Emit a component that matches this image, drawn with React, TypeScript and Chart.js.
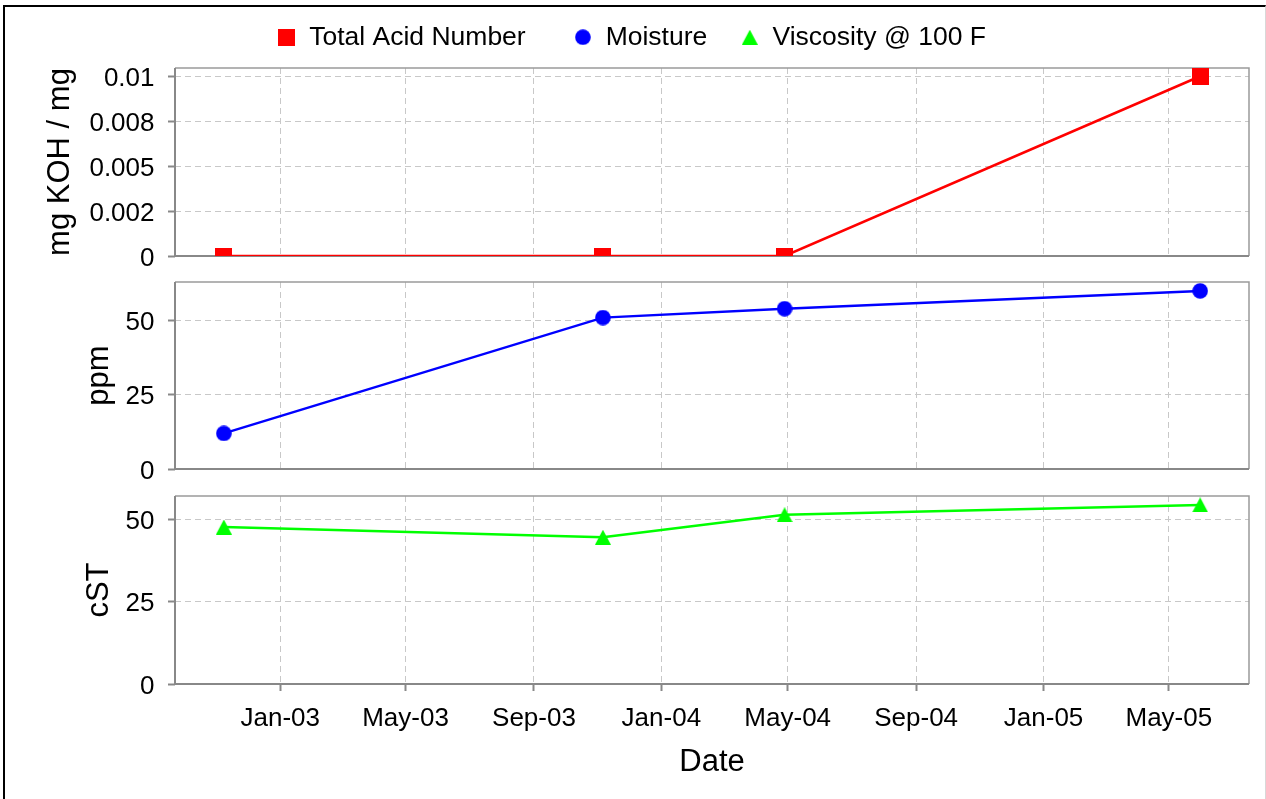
import React, { useEffect, useRef } from 'react';
import { Chart, registerables } from 'chart.js';

Chart.register(...registerables);

// ---- data ----
const dates = ['2002-11-08', '2003-11-06', '2004-04-28', '2005-05-31'];
const seriesNames = ['Total Acid Number', 'Moisture', 'Viscosity @ 100 F'];
const seriesColors = ['#ff0000', '#0000ff', '#00ff00'];
const tanValues = [0, 0, 0, 0.01];
const moistureValues = [12, 51, 54, 60];
const viscosityValues = [47.6, 44.5, 51.3, 54.3];

const tanTicks = [0, 0.0025, 0.005, 0.0075, 0.01];
const tanTickLabels = ['0', '0.002', '0.005', '0.008', '0.01'];
const moistureTicks = [0, 25, 50];
const moistureTickLabels = ['0', '25', '50'];
const viscosityTicks = [0, 25, 50];
const viscosityTickLabels = ['0', '25', '50'];

const xTickDates = ['2003-01-01', '2003-05-01', '2003-09-01', '2004-01-01', '2004-05-01', '2004-09-01', '2005-01-01', '2005-05-01'];
const xTickLabels = ['Jan-03', 'May-03', 'Sep-03', 'Jan-04', 'May-04', 'Sep-04', 'Jan-05', 'May-05'];

const yTitles = ['mg KOH / mg', 'ppm', 'cST'];
const xTitle = 'Date';

// ---- helpers ----
const toDay = (s: string) => {
  const [y, m, d] = s.split('-').map(Number);
  return Date.UTC(y, m - 1, d) / 86400000;
};

const GRID = '#c8c8c8';
const AXIS = '#888888';
const DASH = [6, 4];

function makeMarker(kind: string, color: string) {
  const c = document.createElement('canvas');
  const ctx = c.getContext('2d')!;
  if (kind === 'square') {
    c.width = 17; c.height = 17;
    ctx.fillStyle = color;
    ctx.fillRect(0, 0, 17, 17);
  } else if (kind === 'circle') {
    c.width = 16; c.height = 16;
    ctx.fillStyle = color;
    ctx.beginPath();
    ctx.arc(8, 8, 7.8, 0, Math.PI * 2);
    ctx.fill();
  } else {
    c.width = 16; c.height = 15;
    ctx.fillStyle = color;
    ctx.beginPath();
    ctx.moveTo(8, 0);
    ctx.lineTo(16, 15);
    ctx.lineTo(0, 15);
    ctx.closePath();
    ctx.fill();
  }
  return c;
}

const framePlugin = {
  id: 'frame',
  beforeDatasetsDraw(chart: any) {
    const { ctx, chartArea: a } = chart;
    ctx.save();
    ctx.setLineDash([]);
    ctx.strokeStyle = '#9a9a9a';
    ctx.lineWidth = 1.5;
    ctx.beginPath();
    ctx.moveTo(a.left, a.top);
    ctx.lineTo(a.right, a.top);
    ctx.lineTo(a.right, a.bottom);
    ctx.stroke();
    ctx.strokeStyle = AXIS;
    ctx.lineWidth = 2;
    ctx.beginPath();
    ctx.moveTo(a.left, a.top);
    ctx.lineTo(a.left, a.bottom);
    ctx.lineTo(a.right, a.bottom);
    ctx.stroke();
    ctx.restore();
  },
};

// fixes the legend box height so the plot starts where the reference does
const legendHeightPlugin = (h: number) => ({
  id: 'legendHeight',
  beforeInit(chart: any) {
    const legend = chart.legend;
    if (!legend) return;
    const fit = legend.fit;
    legend.fit = function () {
      fit.call(this);
      this.height = h;
    };
  },
});

export default function App() {
  const r1 = useRef<HTMLCanvasElement>(null);
  const r2 = useRef<HTMLCanvasElement>(null);
  const r3 = useRef<HTMLCanvasElement>(null);

  useEffect(() => {
    Chart.defaults.font.family = '"Liberation Sans", Arial, Helvetica, sans-serif';
    Chart.defaults.color = '#000';

    const markers = [
      makeMarker('square', seriesColors[0]),
      makeMarker('circle', seriesColors[1]),
      makeMarker('triangle', seriesColors[2]),
    ];

    const xDays = dates.map(toDay);
    const span = xDays[xDays.length - 1] - xDays[0];
    const xMin = xDays[0] - span * 0.05;
    const xMax = xDays[xDays.length - 1] + span * 0.05;
    const xTickValues = xTickDates.map(toDay);

    const xScale = (show: boolean) => ({
      type: 'linear',
      min: xMin,
      max: xMax,
      afterBuildTicks: (s: any) => { s.ticks = xTickValues.map((v) => ({ value: v })); },
      afterFit: (s: any) => { s.height = show ? 115 : 0; s.paddingLeft = 0; s.paddingRight = 0; },
      grid: { color: GRID, lineWidth: 1, borderDash: DASH, drawTicks: show, tickLength: 7, tickColor: AXIS, tickWidth: 2, tickBorderDash: [] },
      border: { display: false, dash: DASH },
      ticks: { display: show, autoSkip: false, maxRotation: 0, minRotation: 0, padding: 15, font: { size: 26, lineHeight: 1 }, callback: (_v: any, i: number) => xTickLabels[i] },
      title: { display: show, text: xTitle, font: { size: 31, lineHeight: 1 }, padding: { top: 0, bottom: 21.5 } },
    });

    const yScale = (max: number, ticks: number[], labels: string[], title: string, titlePad: number, width: number) => ({
      type: 'linear',
      min: 0,
      max,
      afterBuildTicks: (s: any) => { s.ticks = ticks.map((v) => ({ value: v })); },
      afterFit: (s: any) => { s.width = width; s.paddingTop = 0; s.paddingBottom = 0; },
      grid: { color: GRID, lineWidth: 1, borderDash: DASH, drawTicks: true, tickLength: 7, tickColor: AXIS, tickWidth: 2, tickBorderDash: [] },
      border: { display: false, dash: DASH },
      ticks: { autoSkip: false, padding: 13.5, labelOffset: 2.5, font: { size: 26 }, callback: (_v: any, i: number) => labels[i] },
      title: { display: true, text: title, font: { size: 31, lineHeight: 1 }, padding: { top: titlePad, bottom: 0 } },
    });

    const dataset = (i: number, values: number[]) => ({
      label: seriesNames[i],
      data: values.map((v, k) => ({ x: xDays[k], y: v })),
      borderColor: seriesColors[i],
      backgroundColor: seriesColors[i],
      borderWidth: 2.5,
      tension: 0,
      pointStyle: markers[i],
      pointRadius: 8,
      pointBorderWidth: 0,
      pointHoverRadius: 8,
    });

    const base = (padding: any, legend: any, x: any, y: any, ds: any, extra: any[] = []): any => ({
      type: 'line',
      data: { datasets: [ds] },
      options: {
        responsive: false,
        animation: false,
        events: [],
        layout: { padding },
        plugins: { legend, tooltip: { enabled: false } },
        scales: { x, y },
      },
      plugins: [framePlugin, ...extra],
    });

    // legend label spacing in the reference is wider after the first entry
    const legendTexts = [seriesNames[0] + '\u0020\u0020', seriesNames[1], seriesNames[2]];

    const c1 = new Chart(
      r1.current!,
      base(
        { left: 13.9, right: 17, top: 0, bottom: 543 },
        {
          display: true,
          position: 'top',
          align: 'center',
          labels: {
            usePointStyle: true,
            boxWidth: 19,
            padding: 33,
            color: '#000',
            font: { size: 26.5 },
            generateLabels: () =>
              legendTexts.map((t, i) => ({
                text: t,
                pointStyle: markers[i],
                fillStyle: seriesColors[i],
                strokeStyle: seriesColors[i],
                lineWidth: 0,
                hidden: false,
                datasetIndex: 0,
              })),
          },
        },
        xScale(false),
        yScale(0.01046, tanTicks, tanTickLabels, yTitles[0], 31.1, 161.1),
        dataset(0, tanValues),
        [legendHeightPlugin(77)]
      )
    );

    const c2 = new Chart(
      r2.current!,
      base(
        { left: 0, right: 17, top: 282, bottom: 330 },
        { display: false },
        xScale(false),
        yScale(63, moistureTicks, moistureTickLabels, yTitles[1], 84, 175),
        dataset(1, moistureValues)
      )
    );

    const c3 = new Chart(
      r3.current!,
      base(
        { left: 0, right: 17, top: 496, bottom: 0 },
        { display: false },
        xScale(true),
        yScale(57, viscosityTicks, viscosityTickLabels, yTitles[2], 83.5, 175),
        dataset(2, viscosityValues)
      )
    );

    return () => {
      c1.destroy();
      c2.destroy();
      c3.destroy();
    };
  }, []);

  return (
    <div style={{ position: 'fixed', left: 0, top: 0, width: 1266, height: 799, overflow: 'hidden', background: '#fff' }}>
      <div
        style={{
          position: 'absolute',
          left: 3,
          top: 5,
          width: 1260,
          height: 900,
          borderLeft: '2px solid #000',
          borderTop: '2px solid #000',
          borderRight: '1px solid #d8d8d8',
        }}
      />
      <canvas ref={r1} width={1266} height={808} style={{ position: 'absolute', left: 0, top: -9 }} />
      <canvas ref={r2} width={1266} height={799} style={{ position: 'absolute', left: 0, top: 0 }} />
      <canvas ref={r3} width={1266} height={799} style={{ position: 'absolute', left: 0, top: 0 }} />
    </div>
  );
}
